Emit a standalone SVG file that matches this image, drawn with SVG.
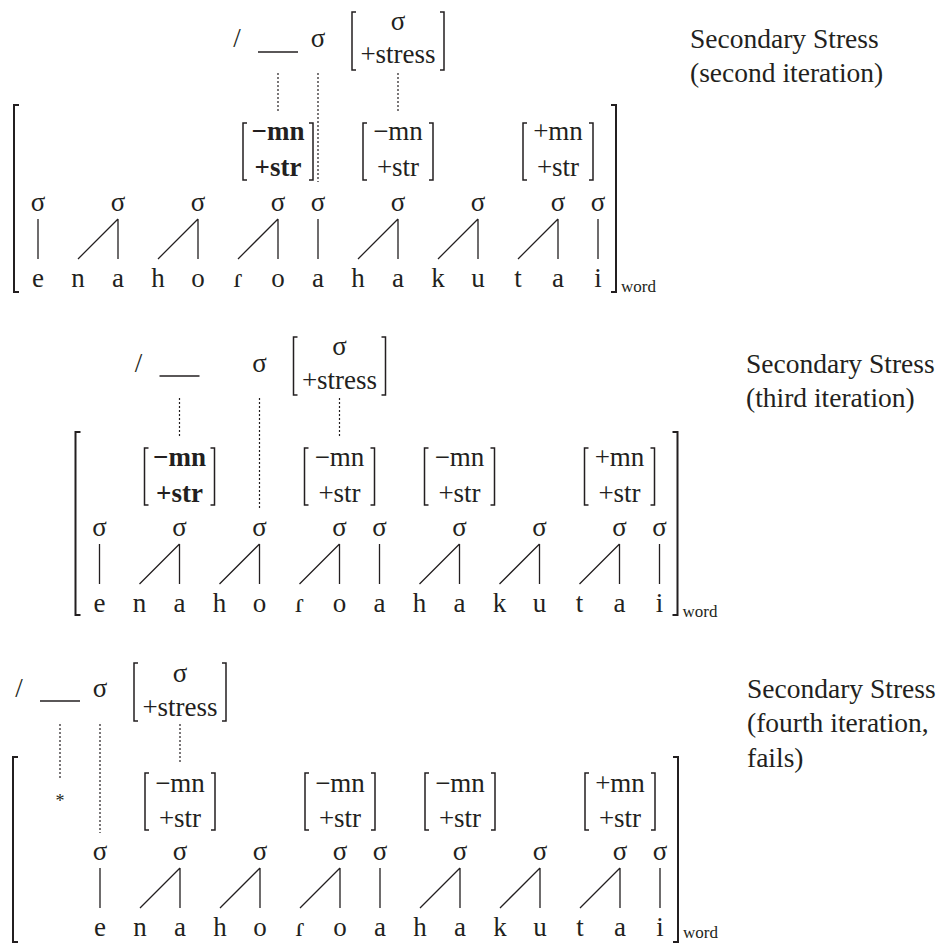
<svg xmlns="http://www.w3.org/2000/svg" xmlns:xlink="http://www.w3.org/1999/xlink" width="940" height="944" viewBox="0 0 940 944" font-family="'Liberation Serif', 'Times New Roman', Times, 'DejaVu Serif', serif">
<style>
text{font-family:'Liberation Serif','Times New Roman',Times,'DejaVu Serif',serif}
.t{font-size:27px;fill:#231f20;text-anchor:middle}
.b{font-weight:bold}
.lab{font-size:27.5px;fill:#231f20}
.w{font-size:17px;fill:#231f20}
.ln{stroke:#231f20;stroke-width:1.3;fill:none}
.br{stroke:#231f20;stroke-width:1.5;fill:none}
.wb{stroke:#231f20;stroke-width:2;fill:none}
.dot{stroke:#231f20;stroke-width:1.2;stroke-dasharray:2 2;fill:none}
</style>
<defs>
<path id="fbr" class="br" d="M-31,123h-4v57h4M31,123h4v57h-4"/>
<path id="rbr" class="br" d="M-42,12h-4v58h4M42,12h4v58h-4"/>
<path id="assoc" class="ln" d="M0,219V259M80,219V259M160,219V259M240,219V259M280,219V259M360,219V259M440,219V259M520,219V259M560,219V259M40,259L80,219M120,259L160,219M200,259L240,219M320,259L360,219M400,259L440,219M480,259L520,219"/>
<g id="row">
<text class="t" x="0" y="287">e</text><text class="t" x="40" y="287">n</text><text class="t" x="80" y="287">a</text><text class="t" x="120" y="287">h</text><text class="t" x="160" y="287">o</text><text class="t" x="200" y="287">ɾ</text><text class="t" x="240" y="287">o</text><text class="t" x="280" y="287">a</text><text class="t" x="320" y="287">h</text><text class="t" x="360" y="287">a</text><text class="t" x="400" y="287">k</text><text class="t" x="440" y="287">u</text><text class="t" x="480" y="287">t</text><text class="t" x="520" y="287">a</text><text class="t" x="560" y="287">i</text>
</g>
<g id="sigs">
<text class="t" x="0" y="211">σ</text><text class="t" x="80" y="211">σ</text><text class="t" x="160" y="211">σ</text><text class="t" x="240" y="211">σ</text><text class="t" x="280" y="211">σ</text><text class="t" x="360" y="211">σ</text><text class="t" x="440" y="211">σ</text><text class="t" x="520" y="211">σ</text><text class="t" x="560" y="211">σ</text>
</g>
</defs>

<!-- Panel 1 -->
<g id="panel1" transform="translate(38,0)">
<g id="p1-rule">
<text class="t" x="199" y="47">/</text>
<line class="ln" x1="220" y1="52" x2="260" y2="52" style="stroke-width:1.5"/>
<text class="t" x="280" y="47">σ</text>
<g id="p1-target"><use xlink:href="#rbr" x="360"/><text class="t" x="360" y="30">σ</text><text class="t" x="360" y="63">+stress</text></g>
</g>
<g id="p1-word">
<path class="wb" d="M-19,105h-5v187h5M573,105h5v187h-5"/>
<text class="w" x="583" y="292">word</text>
<use xlink:href="#sigs"/>
<use xlink:href="#row"/>
</g>
<g id="p1-f1"><use xlink:href="#fbr" x="240"/><text class="t b" x="240" y="140">−mn</text><text class="t b" x="240" y="176">+str</text></g>
<g id="p1-f2"><use xlink:href="#fbr" x="360"/><text class="t" x="360" y="140">−mn</text><text class="t" x="360" y="176">+str</text></g>
<g id="p1-f3"><use xlink:href="#fbr" x="520"/><text class="t" x="520" y="140">+mn</text><text class="t" x="520" y="176">+str</text></g>
<g id="p1-connectors">
<use xlink:href="#assoc"/>
<path class="dot" d="M240,73V113M280,73V182M360,73V113"/>
</g>
</g>
<g id="p1-label">
<text class="lab" x="690" y="48">Secondary Stress</text>
<text class="lab" x="690" y="82">(second iteration)</text>
</g>

<!-- Panel 2 -->
<g id="panel2" transform="translate(99.5,325)">
<g id="p2-rule">
<text class="t" x="39" y="47">/</text>
<line class="ln" x1="60" y1="51" x2="100" y2="51" style="stroke-width:1.5"/>
<text class="t" x="160" y="47">σ</text>
<g id="p2-target"><use xlink:href="#rbr" x="240"/><text class="t" x="240" y="30">σ</text><text class="t" x="240" y="64">+stress</text></g>
</g>
<g id="p2-word">
<path class="wb" d="M-19,107h-5v183h5M573,107h5v183h-5"/>
<text class="w" x="583" y="292">word</text>
<use xlink:href="#sigs"/>
<use xlink:href="#row"/>
</g>
<g id="p2-f1"><use xlink:href="#fbr" x="80"/><text class="t b" x="80" y="141">−mn</text><text class="t b" x="80" y="177">+str</text></g>
<g id="p2-f2"><use xlink:href="#fbr" x="240"/><text class="t" x="240" y="141">−mn</text><text class="t" x="240" y="177">+str</text></g>
<g id="p2-f3"><use xlink:href="#fbr" x="360"/><text class="t" x="360" y="141">−mn</text><text class="t" x="360" y="177">+str</text></g>
<g id="p2-f4"><use xlink:href="#fbr" x="520"/><text class="t" x="520" y="141">+mn</text><text class="t" x="520" y="177">+str</text></g>
<g id="p2-connectors">
<use xlink:href="#assoc"/>
<path class="dot" d="M80,73V113M160,73V183M240,73V113"/>
</g>
</g>
<g id="p2-label">
<text class="lab" x="746" y="373">Secondary Stress</text>
<text class="lab" x="746" y="407">(third iteration)</text>
</g>

<!-- Panel 3 -->
<g id="panel3" transform="translate(100,649)">
<g id="p3-rule">
<text class="t" x="-81" y="48">/</text>
<line class="ln" x1="-60" y1="52" x2="-20" y2="52" style="stroke-width:1.5"/>
<text class="t" x="0" y="48">σ</text>
<g id="p3-target"><use xlink:href="#rbr" x="80" y="2"/><text class="t" x="80" y="33">σ</text><text class="t" x="80" y="67">+stress</text></g>
</g>
<g id="p3-word">
<path class="wb" d="M-82,108h-5v185h5M573,108h5v185h-5"/>
<text class="w" x="583" y="289">word</text>
<use xlink:href="#sigs"/>
<use xlink:href="#row"/>
</g>
<g id="p3-f1"><use xlink:href="#fbr" x="80" y="1"/><text class="t" x="80" y="143">−mn</text><text class="t" x="80" y="178">+str</text></g>
<g id="p3-f2"><use xlink:href="#fbr" x="240" y="1"/><text class="t" x="240" y="143">−mn</text><text class="t" x="240" y="178">+str</text></g>
<g id="p3-f3"><use xlink:href="#fbr" x="360" y="1"/><text class="t" x="360" y="143">−mn</text><text class="t" x="360" y="178">+str</text></g>
<g id="p3-f4"><use xlink:href="#fbr" x="520" y="1"/><text class="t" x="520" y="143">+mn</text><text class="t" x="520" y="178">+str</text></g>
<g id="p3-star"><text class="t" x="-40" y="158" style="font-size:18px">*</text></g>
<g id="p3-connectors">
<use xlink:href="#assoc"/>
<path class="dot" d="M-40,75V131M0,75V184M80,75V114"/>
</g>
</g>
<g id="p3-label">
<text class="lab" x="747" y="698">Secondary Stress</text>
<text class="lab" x="747" y="732">(fourth iteration,</text>
<text class="lab" x="747" y="767">fails)</text>
</g>
</svg>
